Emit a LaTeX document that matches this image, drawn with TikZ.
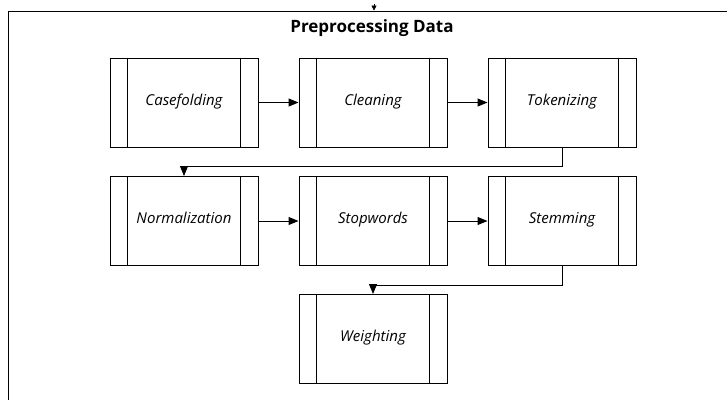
\documentclass[tikz,border=0pt]{standalone}
\usepackage{fontspec}
\setmainfont{Open Sans}
\usetikzlibrary{arrows.meta}
\begin{document}
\begin{tikzpicture}[x=1pt,y=-1pt,
  proc/.style={draw,line width=1pt,minimum width=148pt,minimum height=89pt,inner sep=0pt,text height=0.75em,text depth=0.25em,font=\fontsize{15}{17}\selectfont\itshape},
  conn/.style={line width=1pt,-{Triangle[length=10pt,width=8pt]}},
  frame/.style={line width=0.9pt}]
\useasboundingbox (0,0) rectangle (727,400);
\fill[white] (0,0) rectangle (727,400);
% frame
\coordinate (fbl) at (8,400);
\coordinate (ftl) at (8,11);
\coordinate (ftr) at (727,11);
\draw[frame] (fbl) -- (ftl) -- (ftr);
\coordinate (tipA) at (374,4);
\coordinate (tipB) at (374,10.5);
\draw[line width=0.5pt,-{Triangle[length=5pt,width=5pt]}] (tipA) -- (tipB);
\node[font=\fontsize{17}{19}\selectfont\bfseries] (title) at (372,28) {Preprocessing Data};
% boxes
\newcommand{\procbox}[3]{%
  \node[proc] (#1) at (#2) {#3};
  \draw[line width=1pt] ([xshift=18pt]#1.north west) -- ([xshift=18pt]#1.south west);
  \draw[line width=1pt] ([xshift=-18pt]#1.north east) -- ([xshift=-18pt]#1.south east);
}
\procbox{case}{184,102.5}{Casefolding}
\procbox{clean}{373,102.5}{Cleaning}
\procbox{token}{562,102.5}{Tokenizing}
\procbox{norm}{184,221}{Normalization}
\procbox{stop}{373,221}{Stopwords}
\procbox{stem}{562,221}{Stemming}
\procbox{weight}{373,339}{Weighting}
% connectors
\draw[conn] (case.east) -- (clean.west);
\draw[conn] (clean.east) -- (token.west);
\draw[conn] (norm.east) -- (stop.west);
\draw[conn] (stop.east) -- (stem.west);
\draw[conn] (token.south) -- ++(0,19) -| (norm.north);
\draw[conn] (stem.south) -- ++(0,19) -| (weight.north);
\end{tikzpicture}
\end{document}
